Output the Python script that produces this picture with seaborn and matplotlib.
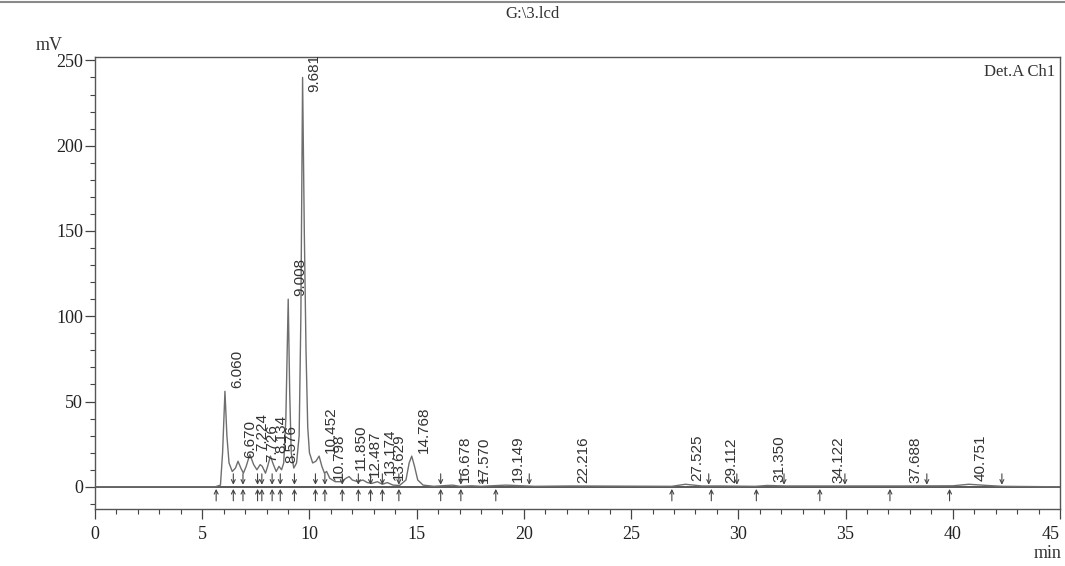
import matplotlib
matplotlib.use("Agg")
import matplotlib.pyplot as plt
from matplotlib.lines import Line2D
from matplotlib.ticker import MultipleLocator
import seaborn as sns
import pandas as pd

# chromatogram trace (min, mV)
trace_t = [0.0, 5.60, 5.85, 5.95, 6.06, 6.15, 6.25, 6.40, 6.55, 6.67, 6.80, 6.92,
           7.05, 7.22, 7.40, 7.55, 7.70, 7.80, 7.95, 8.05, 8.18, 8.32, 8.45, 8.58,
           8.70, 8.80, 8.90, 9.01, 9.08, 9.15, 9.27, 9.40, 9.52, 9.60, 9.68, 9.76,
           9.84, 9.92, 10.00, 10.15, 10.30, 10.45, 10.58, 10.70, 10.80, 10.95, 11.20,
           11.50, 11.70, 11.85, 12.00, 12.25, 12.49, 12.70, 12.90, 13.17, 13.40, 13.63,
           13.90, 14.20, 14.50, 14.65, 14.77, 14.90, 15.05, 15.30, 15.80, 16.68, 17.00,
           17.57, 18.00, 19.15, 20.50, 22.22, 26.90, 27.53, 28.30, 29.11, 30.80, 31.35,
           32.20, 34.12, 37.69, 40.00, 40.75, 41.60, 42.30, 45.00]
trace_mv = [0, 0, 1, 20, 56, 30, 14, 9, 11, 15, 11, 8,
            12, 19, 13, 10, 13, 12, 8, 12, 18, 13, 9, 12,
            10, 14, 40, 110, 55, 20, 11, 14, 30, 100, 240, 150,
            80, 35, 20, 14, 15, 18, 12, 8, 9, 5, 3,
            3, 5, 6, 4, 3, 4, 2.5, 2, 3, 1.5, 2.5,
            1, 0.8, 4, 14, 18, 12, 4, 1, 0.3, 1, 0.3,
            0.6, 0.3, 1, 0.3, 0.5, 0.3, 1.5, 0.5, 0.5, 0.3, 0.8,
            0.5, 0.5, 0.5, 0.6, 1.5, 0.8, 0.3, 0]

# peak labels: retention time and peak height
peak_rt = [6.060, 6.670, 7.224, 7.726, 8.134, 8.576, 9.008, 9.681, 10.452, 10.798,
           11.850, 12.487, 13.174, 13.629, 14.768, 16.678, 17.570, 19.149, 22.216,
           27.525, 29.112, 31.350, 34.122, 37.688, 40.751]
peak_h = [56, 15, 19, 13, 18, 12, 110, 240, 18, 2,
          8, 4, 5, 2, 18, 1, 0.5, 1, 0.5,
          1.5, 0.5, 0.8, 0.5, 0.5, 1.5]

# integration marks
mark_up = [5.65, 6.45, 6.90, 7.58, 7.78, 8.26, 8.64, 9.30, 10.28, 10.72, 11.53,
           12.28, 12.85, 13.40, 14.17, 16.12, 17.06, 18.69, 26.90, 28.74, 30.84,
           33.80, 37.07, 39.85]
mark_down = [6.45, 6.90, 7.58, 7.78, 8.26, 8.64, 9.30, 10.28, 10.72, 11.53, 12.28,
             12.85, 13.40, 14.17, 16.12, 17.06, 18.07, 20.25, 28.62, 29.93, 32.13,
             34.97, 38.79, 42.29]

x_ticks = [0, 5, 10, 15, 20, 25, 30, 35, 40, 45]

df = pd.DataFrame({"t": trace_t, "mv": trace_mv})

sns.set_style("ticks")
plt.rcParams["font.family"] = ["Liberation Serif", "DejaVu Serif"]

fig = plt.figure(figsize=(10.65, 5.66), dpi=100)
ax = fig.add_axes([95 / 1065, 1 - 509 / 566, 965 / 1065, 452 / 566])

ax.axhline(0, color="#4a4a4a", lw=1.3, zorder=1)
sns.lineplot(data=df, x="t", y="mv", ax=ax, color="#6e6e6e", lw=1.0, zorder=2)

ax.set_xlim(0, 45)
ax.set_ylim(-13, 252)
ymax = 252

# labels that would run past the top are pulled down and clipped, like the original
for rt, h in zip(peak_rt, peak_h):
    y = min(h, ymax - 22)
    ax.annotate(f"{rt:.3f}", xy=(rt, y), xytext=(5, 3), textcoords="offset pixels",
                rotation=90, ha="left", va="bottom", fontsize=11,
                family="Liberation Sans", color="#333333", annotation_clip=False,
                clip_on=True)

for t in mark_up:
    ax.annotate("", xy=(t, 0), xytext=(0, -14), textcoords="offset pixels",
                arrowprops=dict(arrowstyle="->", lw=0.8, color="#444444",
                                shrinkA=0, shrinkB=1.5, mutation_scale=7))
for t in mark_down:
    ax.annotate("", xy=(t, 0), xytext=(0, 13), textcoords="offset pixels",
                arrowprops=dict(arrowstyle="->", lw=0.8, color="#444444",
                                shrinkA=0, shrinkB=1.5, mutation_scale=7))

ax.set_xlabel("")
ax.set_ylabel("")
ax.set_xticks(x_ticks, [str(v) for v in x_ticks])
ax.xaxis.set_minor_locator(MultipleLocator(1))
ax.yaxis.set_major_locator(MultipleLocator(50))
ax.yaxis.set_minor_locator(MultipleLocator(10))
ax.tick_params(axis="both", which="major", direction="out", length=7, width=0.9,
               labelsize=13, colors="#444444", labelcolor="#222222")
ax.tick_params(axis="x", which="major", pad=5)
ax.tick_params(axis="y", which="major", pad=1.5)
ax.tick_params(axis="both", which="minor", direction="out", length=3.5, width=0.8,
               colors="#444444")
for s in ax.spines.values():
    s.set_color("#555555")
    s.set_linewidth(1.0)

# last x label sits flush with the right edge
ax.get_xticklabels()[-1].set_horizontalalignment("right")

ax.text(0.995, 0.985, "Det.A Ch1", transform=ax.transAxes, ha="right", va="top",
        fontsize=12, color="#333333")
fig.text(0.5, 1 - 14 / 566, "G:\\3.lcd", ha="center", va="center", fontsize=12,
         color="#333333")
fig.text(36 / 1065, 1 - 45 / 566, "mV", ha="left", va="center", fontsize=13,
         color="#333333")
fig.text(1062 / 1065, 1 - 553 / 566, "min", ha="right", va="center", fontsize=13,
         color="#333333")
fig.add_artist(Line2D([0, 1], [1 - 2 / 566, 1 - 2 / 566], transform=fig.transFigure,
                      color="#8a8a8a", lw=1.5))

fig.savefig("out.png", dpi=100)
